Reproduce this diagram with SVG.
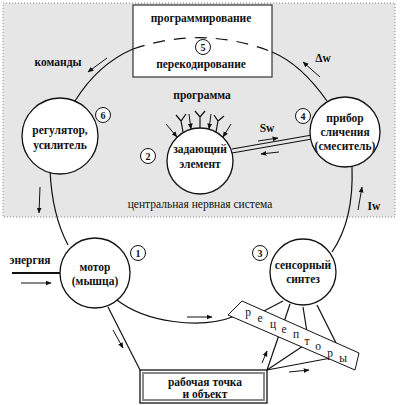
<svg xmlns="http://www.w3.org/2000/svg" width="400" height="405" viewBox="0 0 400 405">
<style>
.t{font-family:"Liberation Serif","Times New Roman",serif;font-size:11.5px;font-weight:bold;fill:#111;text-anchor:middle}
.r{font-family:"Liberation Serif","Times New Roman",serif;font-size:11.5px;fill:#111;text-anchor:middle}
.n{font-family:"Liberation Serif","Times New Roman",serif;font-size:10px;font-weight:bold;fill:#111;text-anchor:middle}
.node{fill:#fff;stroke:#111;stroke-width:1.3}
.num{fill:#fff;stroke:#111;stroke-width:1}
.ln{fill:none;stroke:#111;stroke-width:1.2}
.ar{fill:none;stroke:#111;stroke-width:1;marker-end:url(#ah)}
</style>
<defs>
<marker id="ah" viewBox="0 0 10 10" refX="9" refY="5" markerWidth="6" markerHeight="6" orient="auto" markerUnits="userSpaceOnUse">
<path d="M0,1 L10,5 L0,9 z" fill="#111"/>
</marker>
</defs>
<rect x="0" y="0" width="400" height="405" fill="#fff"/>
<g id="cns">
<rect x="3" y="3" width="392" height="214" fill="#e6e6e6" stroke="#888" stroke-width="1" stroke-dasharray="1 2"/>
<text class="r" x="200" y="208">центральная нервная система</text>
</g>
<g id="recoding">
<rect x="133" y="5" width="139" height="72" fill="#fff" stroke="#333" stroke-width="1.2"/>
<text class="t" x="201" y="22">программирование</text>
<text class="t" x="201" y="68">перекодирование</text>
</g>
<g id="connectors">
<path class="ln" d="M75,101 Q98,64 133,49"/>
<path class="ln" d="M133,49 Q203,25 272,52" stroke-dasharray="12 9"/>
<path class="ln" d="M272,52 Q301,64 327,101"/>
<path class="ln" d="M50,170 Q52,215 68,245"/>
<path class="ln" d="M352,167 Q354,220 332,252"/>
<path class="ln" d="M117,300 C145,322 200,330 235,316"/>
<line class="ln" x1="108" y1="307" x2="140" y2="370"/>
<line class="ln" x1="232" y1="149" x2="312" y2="135"/>
<line class="ln" x1="232" y1="153" x2="312" y2="139"/>
<line x1="12" y1="273" x2="60" y2="273" stroke="#111" stroke-width="2.2"/>
<line class="ln" x1="283" y1="301" x2="262" y2="312"/>
<line class="ln" x1="290" y1="304" x2="284" y2="322"/>
<line class="ln" x1="303" y1="307" x2="307" y2="332"/>
<line class="ln" x1="317" y1="305" x2="337" y2="345"/>
<line class="ln" x1="267" y1="370" x2="279" y2="335"/>
<line class="ln" x1="267" y1="370" x2="303" y2="346"/>
<line class="ln" x1="267" y1="370" x2="331" y2="358"/>
<line class="ar" x1="107" y1="58" x2="88" y2="72"/>
<line class="ar" x1="320" y1="77" x2="303" y2="62"/>
<line class="ar" x1="40" y1="187" x2="39" y2="213"/>
<line class="ar" x1="358" y1="210" x2="362" y2="187"/>
<line class="ar" x1="258" y1="141" x2="278" y2="138"/>
<line class="ar" x1="279" y1="152" x2="261" y2="154"/>
<line class="ar" x1="21" y1="283" x2="51" y2="283"/>
<line class="ar" x1="113" y1="330" x2="123" y2="348"/>
<line class="ar" x1="187" y1="317" x2="212" y2="317"/>
<line class="ar" x1="262" y1="363" x2="267" y2="351"/>
<line class="ar" x1="289" y1="372" x2="309" y2="370"/>
<line class="ar" x1="166" y1="124" x2="177" y2="137"/>
<line class="ar" x1="189" y1="114" x2="191" y2="129"/>
<line class="ar" x1="211" y1="114" x2="209" y2="129"/>
<line class="ar" x1="231" y1="124" x2="223" y2="137"/>
<path class="ln" d="M183,132 L181,121 M176,115 L181,121 L186,114"/>
<path class="ln" d="M200,128 L200,117 M195,111 L200,117 L205,111"/>
<path class="ln" d="M216,132 L218,121 M214,115 L218,121 L224,116"/>
</g>
<g id="receptors">
<polygon points="242,301 359,353 355,370 228,315" fill="#fff" stroke="#111" stroke-width="1"/>
<text class="r" x="248" y="316">р</text>
<text class="r" x="260" y="322">е</text>
<text class="r" x="273" y="328">ц</text>
<text class="r" x="284" y="333">е</text>
<text class="r" x="296" y="338">п</text>
<text class="r" x="307" y="345">т</text>
<text class="r" x="318" y="350">о</text>
<text class="r" x="330" y="357">р</text>
<text class="r" x="343" y="362">ы</text>
</g>
<g id="n5"><circle class="num" cx="203" cy="47" r="7.5"/><text class="n" x="203" y="51">5</text></g>
<g id="labels">
<text class="t" x="58" y="66">команды</text>
<text class="t" x="323" y="62">Δw</text>
<text class="t" x="202" y="99">программа</text>
<text class="t" x="267" y="132">Sw</text>
<text class="t" x="374" y="210">Iw</text>
<text class="t" x="30" y="264">энергия</text>
</g>
<g id="regulator">
<circle class="node" cx="60" cy="136" r="38"/>
<text class="t" x="60" y="134">регулятор,</text>
<text class="t" x="60" y="149">усилитель</text>
<circle class="num" cx="103" cy="115" r="7.5"/><text class="n" x="103" y="119">6</text>
</g>
<g id="setter">
<circle class="node" cx="200" cy="161" r="33"/>
<text class="t" x="200" y="153">задающий</text>
<text class="t" x="200" y="168">элемент</text>
<circle class="num" cx="148" cy="156" r="7.5"/><text class="n" x="148" y="160">2</text>
</g>
<g id="comparator">
<circle class="node" cx="345" cy="132" r="35"/>
<text class="t" x="345" y="122">прибор</text>
<text class="t" x="345" y="136">сличения</text>
<text class="t" x="345" y="150">(смеситель)</text>
<circle class="num" cx="303" cy="116" r="7.5"/><text class="n" x="303" y="120">4</text>
</g>
<g id="motor">
<circle class="node" cx="95" cy="273" r="35"/>
<text class="t" x="95" y="271">мотор</text>
<text class="t" x="95" y="285">(мышца)</text>
<circle class="num" cx="138" cy="253" r="7.5"/><text class="n" x="138" y="257">1</text>
</g>
<g id="sensory">
<circle class="node" cx="303" cy="272" r="33"/>
<text class="t" x="303" y="269">сенсорный</text>
<text class="t" x="303" y="283">синтез</text>
<circle class="num" cx="260" cy="253" r="7.5"/><text class="n" x="260" y="257">3</text>
</g>
<g id="object">
<rect x="140" y="370" width="127" height="33" fill="#fff" stroke="#111" stroke-width="1.3"/>
<rect x="143" y="373" width="121" height="27" fill="none" stroke="#888" stroke-width="2"/>
<text class="t" x="205" y="386">рабочая точка</text>
<text class="t" x="205" y="398">и объект</text>
</g>
</svg>
